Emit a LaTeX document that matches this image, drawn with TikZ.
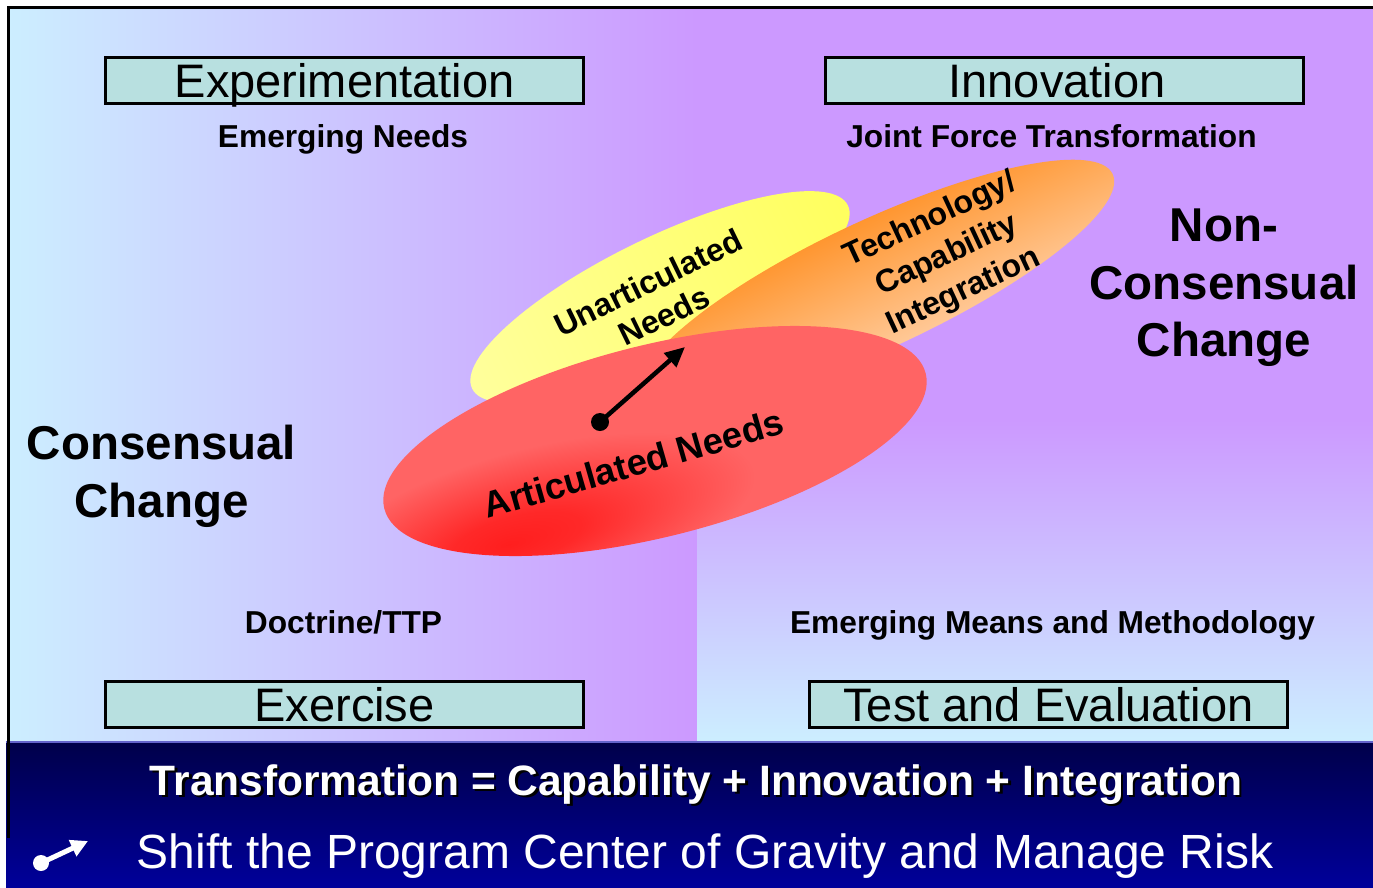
\documentclass[tikz,border=0pt]{standalone}
\usepackage{fontspec}
\setmainfont{Liberation Sans}
\usetikzlibrary{arrows.meta}
\definecolor{bgcyan}{HTML}{CCEEFF}
\definecolor{bgpurple}{HTML}{CC99FF}
\definecolor{boxfill}{HTML}{B8E0E0}
\definecolor{yellowA}{HTML}{FFFF9C}
\definecolor{yellowB}{HTML}{FFFF5E}
\definecolor{orangeA}{HTML}{FF9630}
\definecolor{orangeB}{HTML}{FFC896}
\definecolor{redA}{HTML}{FF1E1E}
\definecolor{redB}{HTML}{FF6464}
\definecolor{navyA}{HTML}{00004A}
\definecolor{navyB}{HTML}{00009A}
\definecolor{bandline}{HTML}{6464CC}
\pgfdeclareradialshading{redglow}{\pgfpoint{-15bp}{-17bp}}{color(0bp)=(redA); color(6bp)=(redA!85!redB); color(20bp)=(redB); color(100bp)=(redB)}
\newcommand\shadowtxt[1]{\makebox[0pt][l]{\hspace{2.5pt}\raisebox{-2.5pt}{\textcolor{black}{#1}}}#1}
\tikzset{
  box/.style={draw=black, line width=3pt, fill=boxfill, minimum width=478pt, minimum height=46pt,
    inner sep=0pt, text height=40pt, text depth=6pt, font=\fontsize{47}{56}\selectfont},
  sub/.style={anchor=base, inner sep=0pt, font=\fontsize{31.7}{38}\selectfont\bfseries},
  big/.style={align=center, inner sep=0pt, font=\fontsize{47.5}{57.5}\selectfont\bfseries},
  eltext/.style={align=center, inner sep=0pt},
}
\begin{document}
\begin{tikzpicture}[x=1pt,y=-1pt]
\useasboundingbox (0,0) rectangle (1373,887);
\fill[white] (0,0) rectangle (1373,887);
% backgrounds
\shade[left color=bgcyan, right color=bgpurple] (8,6) rectangle (697,742);
\fill[bgpurple] (697,6) rectangle (1373,421);
\shade[top color=bgpurple, bottom color=bgcyan] (697,420) rectangle (1373,742);
% bottom band
\shade[top color=navyA, bottom color=navyB] (6,742) rectangle (1373,887);
\draw[bandline, line width=2pt] (6,742) -- (1373,742);
% frame
\draw[black, line width=3pt] (1373,7) -- (8,7) -- (8,838);

% corner boxes
\node[box] (exp) at (344.5,80) {Experimentation};
\node[box] (inn) at (1064,80) {\hspace*{-14pt}Innovation};
\node[box] (exe) at (344.5,704) {Exercise};
\node[box] (te) at (1048.5,704) {Test and Evaluation};

% sub labels
\node[sub] (emneeds) at (343,147) {Emerging Needs};
\node[sub] (jft) at (1051.5,147) {Joint Force Transformation};
\node[sub] (doct) at (343.5,633) {Doctrine/TTP};
\node[sub] (emm) at (1052.5,633) {Emerging Means and Methodology};

% side labels
\node[big] (cons) at (161.5,476.5) {Consensual\\Change};
\node[big] (noncons) at (1224,288) {Non-\\Consensual\\Change};

% ellipses
\coordinate (yc) at (660,297);
\coordinate (oc) at (877,284);
\coordinate (rc) at (655,441);
\begin{scope}[transform canvas={rotate around={26:(yc)}}]
  \shade[left color=yellowA, right color=yellowB] (yc) ellipse (209pt and 59pt);
\end{scope}
\node[eltext, rotate=26, font=\fontsize{32}{37}\selectfont\bfseries] (unart) at (656,299) {Unarticulated\\Needs};
\begin{scope}[transform canvas={rotate around={25:(oc)}}]
  \shade[top color=orangeA, bottom color=orangeB] (oc) ellipse (260pt and 64pt);
\end{scope}
\node[eltext, rotate=25, font=\fontsize{32}{39.5}\selectfont\bfseries] (tech) at (947,256) {Technology/\\Capability\\Integration};
\begin{scope}[transform canvas={rotate around={14:(rc)}}]
  \shade[shading=redglow] (rc) ellipse (279pt and 96pt);
\end{scope}
\node[anchor=base, rotate=16, inner sep=0pt, font=\fontsize{36.5}{44}\selectfont\bfseries] (art) at (637,476) {Articulated Needs};

% centre of gravity arrow
\coordinate (cgdot) at (600,422);
\coordinate (cgtip) at (685,347);
\fill[black] (cgdot) circle (9pt);
\draw[black, line width=4.5pt, -{Triangle[length=20pt,width=18pt]}] (cgdot) -- (cgtip);

% band texts
\node[anchor=base, inner sep=0pt, text=white, font=\fontsize{42.5}{50}\selectfont\bfseries] (eq) at (696,795)
  {\shadowtxt{Transformation = Capability + Innovation + Integration}};
\node[anchor=base, inner sep=0pt, text=white, font=\fontsize{48}{56}\selectfont] (shift) at (705,868)
  {Shift the Program Center of Gravity and Manage Risk};
\coordinate (icondot) at (41,863);
\coordinate (icontip) at (88,841);
\fill[white] (icondot) circle (8pt);
\draw[white, line width=5pt, -{Triangle[length=17pt,width=17pt]}] (icondot) -- (icontip);
\end{tikzpicture}
\end{document}
